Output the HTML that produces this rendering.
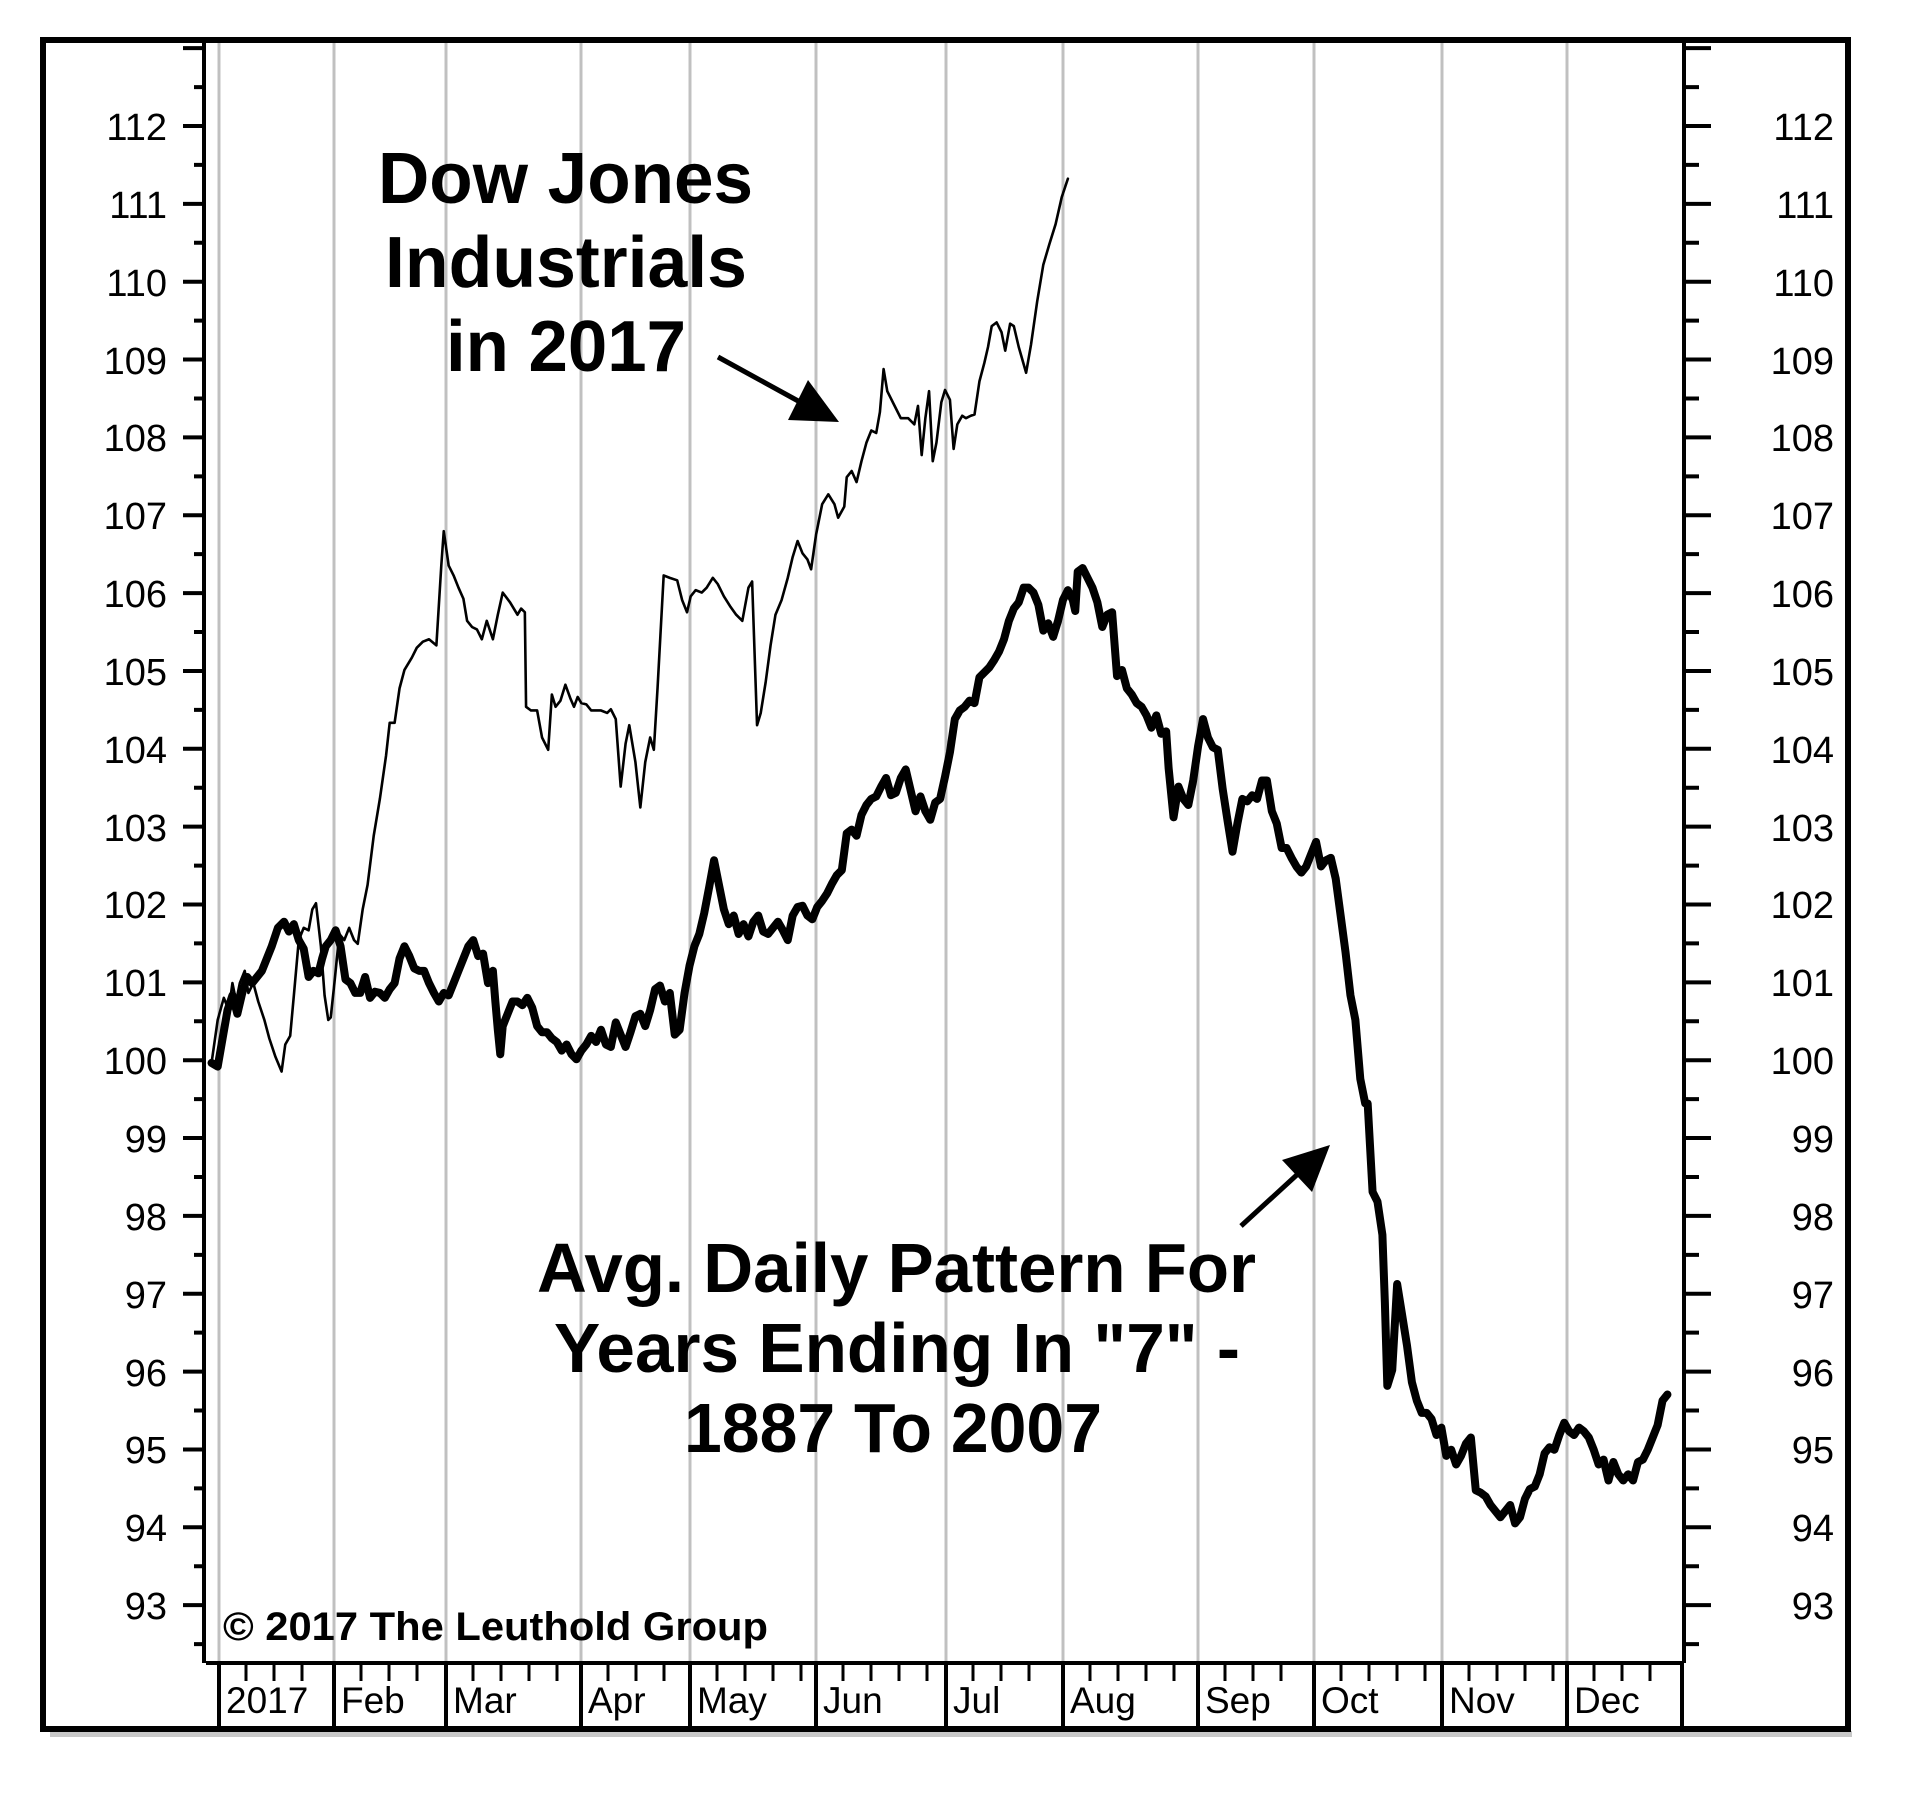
<!DOCTYPE html>
<html><head><meta charset="utf-8"><style>html,body{margin:0;padding:0;background:#fff}svg{display:block}</style></head>
<body>
<svg width="1927" height="1810" viewBox="0 0 1927 1810" xmlns="http://www.w3.org/2000/svg" font-family="'Liberation Sans', Arial, sans-serif">
<rect width="1927" height="1810" fill="#fff"/>
<rect x="50" y="1731" width="1802" height="6" fill="#c8c8c8"/>
<rect x="43" y="40" width="1805" height="1689" fill="none" stroke="#000" stroke-width="6"/>
<!-- grid -->
<path stroke="#c0c0c0" stroke-width="3" fill="none" d="M219 43V1661M334 43V1661M446 43V1661M581 43V1661M690 43V1661M816 43V1661M946 43V1661M1063 43V1661M1198 43V1661M1314 43V1661M1442 43V1661M1567 43V1661"/>
<!-- axes -->
<path stroke="#000" stroke-width="4" fill="none" d="M204 43V1663M1684 43V1663M206 1663H1682M1682 1663V1728
M219 1663V1728M334 1663V1728M446 1663V1728M581 1663V1728M690 1663V1728M816 1663V1728M946 1663V1728M1063 1663V1728M1198 1663V1728M1314 1663V1728M1442 1663V1728M1567 1663V1728"/>
<path stroke="#000" stroke-width="4" fill="none" d="
M183 48.15H204M183 126H204M183 203.85H204M183 281.7H204M183 359.55H204M183 437.4H204M183 515.25H204M183 593.1H204M183 670.95H204M183 748.8H204M183 826.65H204M183 904.5H204M183 982.35H204M183 1060.2H204M183 1138.05H204M183 1215.9H204M183 1293.75H204M183 1371.6H204M183 1449.45H204M183 1527.3H204M183 1605.15H204
M194 87.08H204M194 164.93H204M194 242.78H204M194 320.63H204M194 398.48H204M194 476.33H204M194 554.18H204M194 632.03H204M194 709.88H204M194 787.73H204M194 865.58H204M194 943.43H204M194 1021.28H204M194 1099.13H204M194 1176.98H204M194 1254.83H204M194 1332.68H204M194 1410.53H204M194 1488.38H204M194 1566.23H204M194 1644.08H204
M1684 48.15H1711M1684 126H1711M1684 203.85H1711M1684 281.7H1711M1684 359.55H1711M1684 437.4H1711M1684 515.25H1711M1684 593.1H1711M1684 670.95H1711M1684 748.8H1711M1684 826.65H1711M1684 904.5H1711M1684 982.35H1711M1684 1060.2H1711M1684 1138.05H1711M1684 1215.9H1711M1684 1293.75H1711M1684 1371.6H1711M1684 1449.45H1711M1684 1527.3H1711M1684 1605.15H1711
M1684 87.08H1699M1684 164.93H1699M1684 242.78H1699M1684 320.63H1699M1684 398.48H1699M1684 476.33H1699M1684 554.18H1699M1684 632.03H1699M1684 709.88H1699M1684 787.73H1699M1684 865.58H1699M1684 943.43H1699M1684 1021.28H1699M1684 1099.13H1699M1684 1176.98H1699M1684 1254.83H1699M1684 1332.68H1699M1684 1410.53H1699M1684 1488.38H1699M1684 1566.23H1699M1684 1644.08H1699"/>
<path stroke="#000" stroke-width="3" fill="none" d="M246 1663V1681M274 1663V1681M302 1663V1681M361 1663V1681M389 1663V1681M417 1663V1681M473 1663V1681M501 1663V1681M529 1663V1681M557 1663V1681M608 1663V1681M636 1663V1681M664 1663V1681M717 1663V1681M745 1663V1681M773 1663V1681M801 1663V1681M843 1663V1681M871 1663V1681M899 1663V1681M927 1663V1681M973 1663V1681M1001 1663V1681M1029 1663V1681M1090 1663V1681M1118 1663V1681M1146 1663V1681M1174 1663V1681M1225 1663V1681M1253 1663V1681M1281 1663V1681M1341 1663V1681M1369 1663V1681M1397 1663V1681M1425 1663V1681M1469 1663V1681M1497 1663V1681M1525 1663V1681M1553 1663V1681M1594 1663V1681M1622 1663V1681M1650 1663V1681"/>
<!-- y labels -->
<g font-size="38" fill="#000" text-anchor="end">
<text x="167" y="140">112</text><text x="167" y="218">111</text><text x="167" y="296">110</text><text x="167" y="374">109</text><text x="167" y="451">108</text><text x="167" y="529">107</text><text x="167" y="607">106</text><text x="167" y="685">105</text><text x="167" y="763">104</text><text x="167" y="841">103</text><text x="167" y="918">102</text><text x="167" y="996">101</text><text x="167" y="1074">100</text><text x="167" y="1152">99</text><text x="167" y="1230">98</text><text x="167" y="1308">97</text><text x="167" y="1386">96</text><text x="167" y="1463">95</text><text x="167" y="1541">94</text><text x="167" y="1619">93</text>
<text x="1834" y="140">112</text><text x="1834" y="218">111</text><text x="1834" y="296">110</text><text x="1834" y="374">109</text><text x="1834" y="451">108</text><text x="1834" y="529">107</text><text x="1834" y="607">106</text><text x="1834" y="685">105</text><text x="1834" y="763">104</text><text x="1834" y="841">103</text><text x="1834" y="918">102</text><text x="1834" y="996">101</text><text x="1834" y="1074">100</text><text x="1834" y="1152">99</text><text x="1834" y="1230">98</text><text x="1834" y="1308">97</text><text x="1834" y="1386">96</text><text x="1834" y="1463">95</text><text x="1834" y="1541">94</text><text x="1834" y="1619">93</text>
</g>
<g font-size="37" fill="#000">
<text x="226" y="1713">2017</text><text x="341" y="1713">Feb</text><text x="453" y="1713">Mar</text><text x="588" y="1713">Apr</text><text x="697" y="1713">May</text><text x="823" y="1713">Jun</text><text x="953" y="1713">Jul</text><text x="1070" y="1713">Aug</text><text x="1205" y="1713">Sep</text><text x="1321" y="1713">Oct</text><text x="1449" y="1713">Nov</text><text x="1574" y="1713">Dec</text>
</g>
<!-- data -->
<g transform="matrix(1.2286,0,0,1.228,-1,0.7)" fill="none" stroke="#000" stroke-linejoin="round" stroke-linecap="round">
<polyline vector-effect="non-scaling-stroke" stroke-width="2.6" points="173,865 178,830 183,812 187,822 190,800 193,815 196,800 200,790 203,808 207,800 211,815 216,830 220,845 225,860 230,872 233,850 237,843 240,810 244,765 248,755 252,757 255,740 258,735 262,770 265,810 268,830 270,828 273,800 277,760 281,765 285,755 289,765 292,768 296,740 300,720 305,680 310,650 315,615 318,588 322,588 326,560 330,545 336,535 340,527 345,522 350,520 356,525 360,460 362,432 366,460 370,468 374,478 378,487 381,505 385,510 389,512 393,520 397,505 402,520 406,500 410,482 416,490 422,500 425,495 428,498 429,575 433,578 438,578 442,600 447,610 450,565 453,575 457,570 461,557 465,568 468,575 471,567 474,572 478,573 482,578 486,578 490,578 495,580 498,577 502,585 506,640 510,605 513,590 518,620 522,657 526,620 530,600 533,610 536,560 541,468 546,470 552,472 556,488 560,498 563,485 567,480 572,482 576,478 581,470 585,475 590,485 595,493 600,500 605,505 610,478 613,473 617,590 620,580 624,555 628,525 632,500 637,488 642,470 646,453 650,440 654,450 658,455 661,463 665,435 670,410 675,402 680,410 683,421 688,412 690,388 694,383 698,392 702,375 706,360 710,350 714,352 717,335 720,300 723,318 728,328 734,340 740,340 745,345 748,330 751,370 754,340 757,318 760,375 763,360 767,327 770,317 774,325 777,365 780,345 784,338 787,340 791,338 794,337 798,310 802,295 805,282 808,265 812,262 816,270 819,285 823,263 826,265 830,282 836,303 840,280 845,245 850,215 855,198 860,182 865,160 870,145"/>
<polyline vector-effect="non-scaling-stroke" stroke-width="8" points="173,865 178,868 182,845 186,822 190,810 194,825 198,808 202,795 206,800 210,795 214,790 218,780 222,770 227,755 232,750 236,758 240,752 244,765 248,772 252,795 256,790 260,792 263,780 266,770 270,765 274,757 278,770 282,797 286,800 290,808 294,808 298,795 302,812 306,807 310,808 314,812 318,805 322,800 326,780 330,770 334,778 338,788 342,790 346,790 350,800 354,808 358,815 362,808 366,810 370,800 374,790 378,780 382,770 386,765 390,778 394,776 398,800 402,790 404,815 406,838 408,858 410,835 414,825 418,815 422,815 426,818 430,812 434,820 438,835 442,840 446,840 450,845 454,848 458,855 462,850 466,858 470,862 474,855 478,850 482,843 486,848 490,838 494,850 498,852 502,832 506,842 510,852 514,840 518,827 522,825 526,835 530,822 534,805 538,802 542,815 546,808 550,842 554,838 558,808 562,786 566,770 570,760 574,743 578,722 582,700 586,720 590,740 594,752 598,745 602,760 606,752 610,762 614,750 618,745 622,758 626,760 630,755 634,750 638,757 642,765 646,745 650,738 654,737 658,745 662,748 666,738 670,733 674,727 678,719 682,712 686,708 690,678 694,675 698,680 702,663 706,655 710,650 714,648 718,640 722,633 726,647 730,645 734,633 738,626 742,643 746,660 750,648 754,660 758,667 762,653 766,650 770,632 774,612 778,585 782,578 786,575 790,570 794,572 798,551 802,547 806,543 810,537 814,530 818,520 822,505 826,495 830,490 834,478 838,478 842,482 846,492 850,513 854,507 858,518 862,505 866,488 870,480 874,488 876,497 878,465 882,462 886,470 890,478 894,490 898,510 902,500 906,498 910,550 914,545 918,560 922,565 926,572 930,575 934,582 938,592 942,582 946,597 950,595 952,625 956,665 960,640 964,650 968,655 972,635 976,607 980,585 984,600 988,608 992,610 996,642 1000,668 1004,693 1008,670 1012,650 1016,652 1020,647 1024,650 1028,635 1032,635 1036,660 1040,670 1044,690 1048,690 1052,698 1056,705 1060,710 1064,705 1068,695 1072,685 1076,705 1080,700 1084,698 1088,715 1092,745 1096,775 1100,810 1104,830 1108,878 1112,898 1114,898 1118,970 1122,978 1126,1005 1128,1060 1130,1128 1134,1115 1138,1045 1142,1070 1146,1095 1150,1125 1154,1140 1158,1150 1162,1150 1166,1155 1170,1168 1174,1162 1178,1185 1182,1180 1186,1192 1190,1185 1194,1175 1198,1170 1202,1213 1206,1215 1210,1218 1214,1225 1218,1230 1222,1235 1226,1230 1230,1225 1234,1240 1238,1235 1242,1220 1246,1212 1250,1210 1254,1200 1258,1183 1262,1178 1266,1180 1270,1168 1274,1158 1278,1165 1282,1168 1286,1162 1290,1165 1294,1170 1298,1180 1302,1192 1306,1188 1310,1205 1314,1190 1318,1200 1322,1205 1326,1200 1330,1205 1334,1190 1338,1188 1342,1180 1346,1170 1350,1160 1354,1140 1358,1135"/>
</g>
<g font-weight="bold" fill="#000">
<text x="378" y="203" font-size="72" textLength="375" lengthAdjust="spacingAndGlyphs">Dow Jones</text>
<text x="385" y="287" font-size="72" textLength="362" lengthAdjust="spacingAndGlyphs">Industrials</text>
<text x="446" y="371" font-size="72" textLength="240" lengthAdjust="spacingAndGlyphs">in 2017</text>
<text x="537" y="1292" font-size="70" textLength="719" lengthAdjust="spacingAndGlyphs">Avg. Daily Pattern For</text>
<text x="554" y="1372" font-size="70" textLength="686" lengthAdjust="spacingAndGlyphs">Years Ending In "7" -</text>
<text x="684" y="1452" font-size="70" textLength="418" lengthAdjust="spacingAndGlyphs">1887 To 2007</text>
<text x="223" y="1640" font-size="40" textLength="545" lengthAdjust="spacingAndGlyphs">© 2017 The Leuthold Group</text>
</g>
<line x1="718" y1="357" x2="800" y2="402" stroke="#000" stroke-width="5"/>
<polygon points="839,422 788,420 808,380" fill="#000"/>
<line x1="1241" y1="1226" x2="1300" y2="1172" stroke="#000" stroke-width="5"/>
<polygon points="1330,1145 1282,1160 1312,1192" fill="#000"/>
</svg>
</body></html>
